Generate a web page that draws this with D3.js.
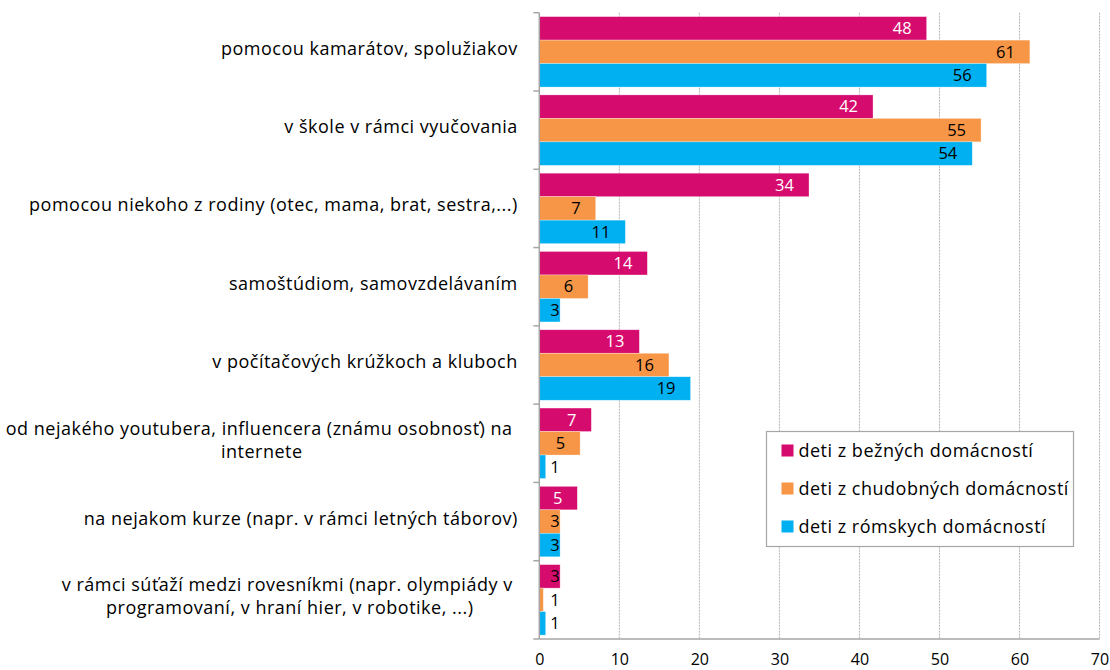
<!DOCTYPE html>
<html>
<head>
<meta charset="utf-8">
<script src="https://cdn.jsdelivr.net/npm/d3@7"></script>
<style>
  body { margin: 0; background: #fff; }
  svg text { font-family: "Open Sans", "Noto Sans", sans-serif; }
  .cat, .leg { letter-spacing: 0.5px; white-space: pre; }
</style>
</head>
<body>
<svg id="chart" width="1110" height="670"></svg>
<script>

// categories (line breaks as in the original, trailing space kept like excel wraps)
var categories = [
  "pomocou kamarátov, spolužiakov",
  "v škole v rámci vyučovania",
  "pomocou niekoho z rodiny (otec, mama, brat, sestra,...)",
  "samoštúdiom, samovzdelávaním",
  "v počítačových krúžkoch a kluboch",
  "od nejakého youtubera, influencera (známu osobnosť) na \ninternete",
  "na nejakom kurze (napr. v rámci letných táborov)",
  "v rámci súťaží medzi rovesníkmi (napr. olympiády v \nprogramovaní, v hraní hier, v robotike, ...)"
];

var seriesNames = ["deti z bežných domácností", "deti z chudobných domácností", "deti z rómskych domácností"];
var seriesColors = ["#d60b6e", "#f79646", "#00b0f0"];

// values (labels are rounded)
var bezne     = [48.4, 41.7, 33.7, 13.5, 12.5, 6.5, 4.75, 2.6];
var chudobne  = [61.3, 55.2, 7.05, 6.1, 16.2, 5.1, 2.6, 0.5];
var romske    = [55.9, 54.1, 10.75, 2.6, 18.9, 0.8, 2.6, 0.8];

var xTicks = [0, 10, 20, 30, 40, 50, 60, 70];

var series = [bezne, chudobne, romske];

var svg = d3.select("#chart");
var textSize = 18,     // category and legend text
    numSize = 16.5,    // value labels
    tickSize = 16;

var plotTop = 12.7, plotBottom = 639, plotLeft = 539.3, plotRight = 1099.5;

var x = d3.scaleLinear().domain([0, 70]).range([plotLeft, plotRight]);

var y0 = d3.scaleBand().domain(d3.range(categories.length))
  .range([plotTop, plotBottom]).paddingInner(0.1).paddingOuter(0.05);

var y1 = d3.scaleBand().domain(d3.range(series.length))
  .range([0, y0.bandwidth()]);

// gridlines
svg.append("g").selectAll("line")
  .data(xTicks.slice(1))
  .enter().append("line")
  .attr("x1", d => x(d)).attr("x2", d => x(d))
  .attr("y1", plotTop).attr("y2", plotBottom)
  .attr("stroke", "#b4b4b4")
  .attr("stroke-width", 1)
  .attr("stroke-dasharray", "2,1");

// bars
var groups = svg.append("g").selectAll("g")
  .data(categories)
  .enter().append("g")
  .attr("transform", (d, i) => "translate(0," + y0(i) + ")");

groups.each(function(c, ci) {
  var g = d3.select(this);
  series.forEach(function(s, si) {
    var v = s[ci];
    g.append("rect")
      .attr("x", x(0))
      .attr("y", y1(si))
      .attr("width", x(v) - x(0))
      .attr("height", y1.bandwidth())
      .attr("fill", seriesColors[si])
      .attr("stroke", "#fff")
      .attr("stroke-opacity", 0.5)
      .attr("stroke-width", 0.6);

    var label = g.append("text")
      .attr("y", y1(si) + y1.bandwidth() / 2)
      .attr("dy", "0.35em")
      .attr("font-size", numSize)
      .text(Math.round(v));
    var w = label.node().getComputedTextLength();
    var end = x(v) - 15;
    if (end - w >= x(0) + 5) {
      label.attr("x", end).attr("text-anchor", "end")
        .attr("fill", si === 0 ? "#fff" : "#000");
    } else {
      // too short: excel pushes the label off the axis
      var inside = x(v) - x(0) >= w + 14;
      label.attr("x", x(0) + 11).attr("text-anchor", "start")
        .attr("fill", (si === 0 && inside) ? "#fff" : "#000");
    }
  });
});

// category axis
var axisColor = "#a6a6a6";
svg.append("line")
  .attr("x1", plotLeft).attr("x2", plotLeft)
  .attr("y1", plotTop).attr("y2", plotBottom)
  .attr("stroke", axisColor).attr("stroke-width", 1.5);

svg.append("g").selectAll("line")
  .data(d3.range(categories.length + 1))
  .enter().append("line")
  .attr("x1", plotLeft - 6).attr("x2", plotLeft)
  .attr("y1", d => plotTop + d * y0.step())
  .attr("y2", d => plotTop + d * y0.step())
  .attr("stroke", axisColor).attr("stroke-width", 1.5);

var lineH = 23;
var catLabels = svg.append("g").selectAll("text")
  .data(categories)
  .enter().append("text")
  .attr("class", "cat")
  .attr("font-size", textSize)
  .attr("fill", "#000")
  .attr("text-anchor", "middle");

catLabels.each(function(c, i) {
  var t = d3.select(this);
  var lines = c.split("\n");
  var cy = y0(i) + y0.bandwidth() / 2;
  lines.forEach(function(l, li) {
    t.append("tspan")
      .attr("x", 0)
      .attr("y", cy + 3 + (li - (lines.length - 1) / 2) * lineH)
      .text(l);
  });
  // block is right aligned, lines centered inside it
  var w = this.getBBox().width;
  var cx = plotLeft - 21.5 - w / 2;
  t.selectAll("tspan").attr("x", cx);
});

// value axis
svg.append("line")
  .attr("x1", plotLeft).attr("x2", plotRight)
  .attr("y1", plotBottom).attr("y2", plotBottom)
  .attr("stroke", axisColor).attr("stroke-width", 1.5);

var xAxis = d3.axisBottom(x).tickValues(xTicks).tickSize(0).tickPadding(0);
var xg = svg.append("g").attr("transform", "translate(0," + (plotBottom + 20.5) + ")").call(xAxis);
xg.select(".domain").remove();
xg.selectAll("text")
  .attr("font-size", tickSize)
  .attr("font-family", "'Open Sans', 'Noto Sans', sans-serif")
  .attr("fill", "#000")
  .attr("dy", "0.35em")
  .attr("y", 0);

// legend
var legend = svg.append("g").attr("transform", "translate(766.5,431.5)");
legend.append("rect")
  .attr("width", 307).attr("height", 115)
  .attr("fill", "#fff")
  .attr("stroke", "#a6a6a6").attr("stroke-width", 1.2);

var items = legend.selectAll("g.item")
  .data(seriesNames)
  .enter().append("g")
  .attr("class", "item")
  .attr("transform", (d, i) => "translate(15," + (19 + i * 38) + ")");

items.append("rect")
  .attr("x", 0).attr("y", -6)
  .attr("width", 12).attr("height", 12)
  .attr("fill", (d, i) => seriesColors[i]);

items.append("text")
  .attr("class", "leg")
  .attr("x", 17).attr("dy", "0.35em")
  .attr("font-size", textSize)
  .attr("fill", "#000")
  .text(d => d);

</script>
</body>
</html>
